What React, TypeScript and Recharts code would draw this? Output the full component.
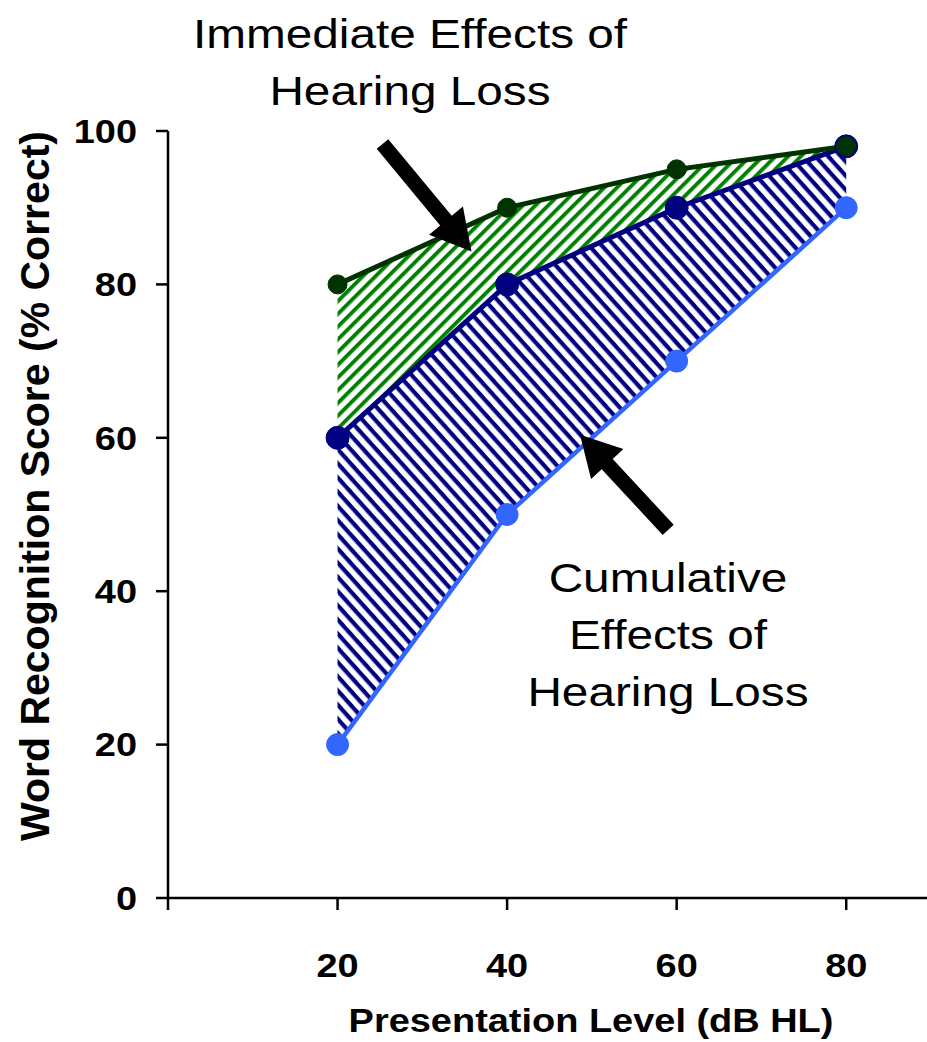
import React from 'react';
import { ComposedChart, Area, Line, XAxis, YAxis, ReferenceLine } from 'recharts';

const levels = [20, 40, 60, 80];
const immediate = [80, 90, 95, 98];
const middle = [60, 80, 90, 98];
const cumulative = [20, 50, 70, 90];
const xTicks = [0, 20, 40, 60, 80];
const yTicks = [0, 20, 40, 60, 80, 100];
const titleLines = ['Immediate Effects of', 'Hearing Loss'];
const noteLines = ['Cumulative', 'Effects of', 'Hearing Loss'];

const data = levels.map((lv, i) => ({
  level: lv,
  top: immediate[i],
  mid: middle[i],
  low: cumulative[i],
  greenRange: [middle[i], immediate[i]],
  navyRange: [cumulative[i], middle[i]],
}));

const FONT = 'Arial, "Liberation Sans", sans-serif';
const SX = 1.15;

const Arrow = (props: any) => {
  const { x1, y1, x2, y2 } = props;
  if ([x1, y1, x2, y2].some((v) => v == null || isNaN(v))) return null;
  const dx = x2 - x1;
  const dy = y2 - y1;
  const len = Math.sqrt(dx * dx + dy * dy);
  const ux = dx / len;
  const uy = dy / len;
  const px = -uy;
  const py = ux;
  const headLen = 40;
  const headW = 22;
  const shaftW = 7.5;
  const bx = x2 - ux * headLen;
  const by = y2 - uy * headLen;
  const pts = [
    [x1 + px * shaftW, y1 + py * shaftW],
    [bx + px * shaftW, by + py * shaftW],
    [bx + px * headW, by + py * headW],
    [x2, y2],
    [bx - px * headW, by - py * headW],
    [bx - px * shaftW, by - py * shaftW],
    [x1 - px * shaftW, y1 - py * shaftW],
  ]
    .map((p) => p.join(','))
    .join(' ');
  return <polygon points={pts} fill="#000" />;
};

const YTick = (props: any) => {
  const { x, y, payload } = props;
  return (
    <g transform={`translate(${x},${y}) scale(${SX},1)`}>
      <text x={0} y={0} dy="0.36em" textAnchor="end" fontFamily={FONT} fontWeight="bold" fontSize={33} fill="#000">
        {payload.value}
      </text>
    </g>
  );
};

const XTick = (props: any) => {
  const { x, y, payload } = props;
  if (payload.value === 0) return null;
  return (
    <g transform={`translate(${x},${y}) scale(${SX},1)`}>
      <text x={0} y={0} dy="0.71em" textAnchor="middle" fontFamily={FONT} fontWeight="bold" fontSize={33} fill="#000">
        {payload.value}
      </text>
    </g>
  );
};

const YLabel = () => {
  const cx = 35;
  const cy = 486;
  return (
    <text
      x={cx}
      y={cy}
      transform={`rotate(-90, ${cx}, ${cy})`}
      textAnchor="middle"
      dominantBaseline="central"
      fontFamily={FONT}
      fontWeight="bold"
      fontSize={41}
      fill="#000"
    >
      Word Recognition Score (% Correct)
    </text>
  );
};

const XLabel = () => (
  <g transform={`translate(591,1032) scale(${SX},1)`}>
    <text x={0} y={0} textAnchor="middle" fontFamily={FONT} fontWeight="bold" fontSize={33} fill="#000">
      Presentation Level (dB HL)
    </text>
  </g>
);

const TextBlock = ({ cx, baseline, lines }: { cx: number; baseline: number; lines: string[] }) => (
  <g transform={`translate(${cx},${baseline}) scale(${SX},1)`}>
    {lines.map((t, i) => (
      <text key={i} x={0} y={i * 57} textAnchor="middle" fontFamily={FONT} fontSize={41.5} fill="#000">
        {t}
      </text>
    ))}
  </g>
);

export default function App() {
  return (
    <div style={{ position: 'absolute', left: 0, top: 0, width: 927, height: 1042, overflow: 'hidden', background: '#fff' }}>
      <ComposedChart
        width={940}
        height={1042}
        data={data}
        margin={{ top: 131, right: 9, left: 0, bottom: 0 }}
      >
        <defs>
          <pattern id="greenHatch" patternUnits="userSpaceOnUse" width="9" height="9" patternTransform="rotate(-45)">
            <rect width="9" height="9" fill="#fff" />
            <rect width="9" height="3.8" fill="#008000" />
          </pattern>
          <pattern id="navyHatch" patternUnits="userSpaceOnUse" width="9.5" height="9.5" patternTransform="rotate(48)">
            <rect width="9.5" height="9.5" fill="#fff" />
            <rect width="9.5" height="4.2" fill="#000080" />
          </pattern>
        </defs>
        <XAxis
          dataKey="level"
          type="number"
          domain={[0, 90]}
          ticks={xTicks}
          height={144}
          tickSize={12}
          tickMargin={44}
          axisLine={{ stroke: '#000', strokeWidth: 2.5 }}
          tickLine={{ stroke: '#000', strokeWidth: 2.5 }}
          tick={<XTick />}
          label={<XLabel />}
        />
        <YAxis
          type="number"
          domain={[0, 100]}
          ticks={yTicks}
          width={168}
          tickSize={12}
          tickMargin={19}
          axisLine={{ stroke: '#000', strokeWidth: 2.5 }}
          tickLine={{ stroke: '#000', strokeWidth: 2.5 }}
          tick={<YTick />}
          label={<YLabel />}
        />
        <Area
          type="linear"
          dataKey="greenRange"
          stroke="none"
          fill="url(#greenHatch)"
          fillOpacity={1}
          isAnimationActive={false}
          activeDot={false}
        />
        <Area
          type="linear"
          dataKey="navyRange"
          stroke="none"
          fill="url(#navyHatch)"
          fillOpacity={1}
          isAnimationActive={false}
          activeDot={false}
        />
        <Line
          type="linear"
          dataKey="low"
          stroke="#3366FF"
          strokeWidth={4.5}
          dot={{ r: 11, fill: '#3366FF', stroke: '#3366FF', strokeWidth: 1 }}
          isAnimationActive={false}
          activeDot={false}
        />
        <Line
          type="linear"
          dataKey="mid"
          stroke="#000080"
          strokeWidth={5}
          dot={{ r: 11.5, fill: '#000080', stroke: '#000080', strokeWidth: 1 }}
          isAnimationActive={false}
          activeDot={false}
        />
        <Line
          type="linear"
          dataKey="top"
          stroke="#003300"
          strokeWidth={5}
          dot={{ r: 9.5, fill: '#003300', stroke: '#003300', strokeWidth: 1 }}
          isAnimationActive={false}
          activeDot={false}
        />
        <ReferenceLine
          segment={[{ x: 25.3, y: 98.3 }, { x: 35.8, y: 84.3 }]}
          shape={<Arrow />}
          ifOverflow="visible"
        />
        <ReferenceLine
          segment={[{ x: 59, y: 48 }, { x: 48.6, y: 60.4 }]}
          shape={<Arrow />}
          ifOverflow="visible"
        />
      </ComposedChart>
      <svg width={927} height={1042} style={{ position: 'absolute', left: 0, top: 0, pointerEvents: 'none' }}>
        <TextBlock cx={410} baseline={48} lines={titleLines} />
        <TextBlock cx={668} baseline={592} lines={noteLines} />
      </svg>
    </div>
  );
}
